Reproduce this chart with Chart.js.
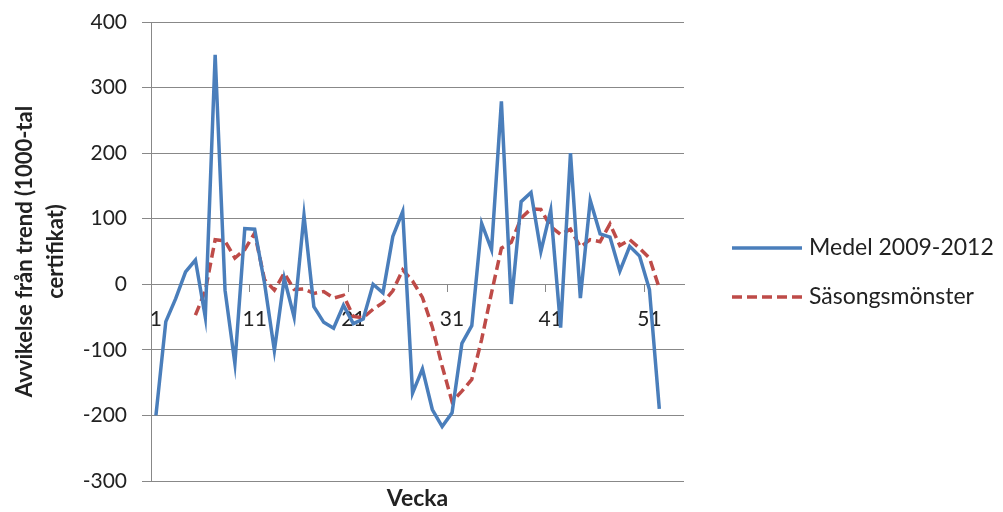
<!DOCTYPE html>
<html>
<head>
<meta charset="utf-8">
<script src="https://cdn.jsdelivr.net/npm/chart.js@4/dist/chart.umd.min.js"></script>
<style>
  html, body { margin: 0; padding: 0; background: #fff; }
  #wrap { width: 1003px; height: 512px; }
</style>
</head>
<body>
<div id="wrap"><canvas id="chart"></canvas></div>
<script>
// veckor (54 kategorier, data för 1-52)
const weeks = [1, 2, 3, 4, 5, 6, 7, 8, 9, 10, 11, 12, 13, 14, 15, 16, 17, 18,
  19, 20, 21, 22, 23, 24, 25, 26, 27, 28, 29, 30, 31, 32, 33, 34, 35, 36, 37,
  38, 39, 40, 41, 42, 43, 44, 45, 46, 47, 48, 49, 50, 51, 52, 53, 54];

// Medel 2009-2012
const medel = [-200, -57, -22, 19, 37, -50, 350, -9, -121, 85, 84, 2, -101, 9,
  -50, 105, -34, -58, -67, -32, -60, -53, 0, -13, 73, 111, -166, -129, -191,
  -217, -196, -90, -63, 93, 53, 279, -30, 126, 140, 50, 113, -66, 200, -21,
  128, 77, 72, 20, 58, 43, -8, -190];

// Säsongsmönster
const sasong = [null, null, null, null, -47, -10, 68, 66, 40, 53, 78, 7, -9,
  17, -8, -7, -14, -11, -21, -17, -49, -51, -38, -28, -10, 22, 5, -20, -65,
  -125, -179, -163, -145, -84, -13, 55, 64, 101, 115, 114, 88, 76, 84, 57, 68,
  65, 92, 59, 68, 55, 40, -6];

const yTicks = [-300, -200, -100, 0, 100, 200, 300, 400];

const gridColor = "#888888";
const textColor = "#222222";

// legend + x-titel
const extras = {
  id: "extras",
  afterDraw(chart) {
    const ctx = chart.ctx;
    const area = chart.chartArea;
    ctx.save();
    // legend
    const rows = [248, 297];
    chart.data.datasets.forEach((ds, i) => {
      const y = rows[i];
      ctx.strokeStyle = ds.borderColor;
      ctx.lineWidth = ds.borderWidth;
      ctx.setLineDash(ds.borderDash || []);
      ctx.beginPath();
      ctx.moveTo(732, y);
      ctx.lineTo(802, y);
      ctx.stroke();
      ctx.setLineDash([]);
      ctx.fillStyle = textColor;
      ctx.font = "23px Lato";
      ctx.textAlign = "left";
      ctx.textBaseline = "middle";
      ctx.fillText(ds.label, 809, y);
    });
    // x-titel
    ctx.font = "bold 23px Lato";
    ctx.textAlign = "center";
    ctx.textBaseline = "middle";
    ctx.fillText("Vecka", (area.left + area.right) / 2, 499);
    ctx.restore();
  },
};

const ctx = document.getElementById("chart").getContext("2d");
new Chart(ctx, {
  type: "line",
  data: {
    labels: weeks,
    datasets: [
      {
        label: "Medel 2009-2012",
        data: medel,
        borderColor: "#4A7EBB",
        borderWidth: 3.5,
        pointRadius: 0,
        tension: 0,
        fill: false,
      },
      {
        label: "Säsongsmönster",
        data: sasong,
        borderColor: "#BE4B48",
        borderWidth: 3.5,
        borderDash: [10, 5],
        pointRadius: 0,
        tension: 0,
        fill: false,
      },
    ],
  },
  options: {
    responsive: true,
    maintainAspectRatio: false,
    devicePixelRatio: 1,
    animation: false,
    layout: {
      padding: { left: 0, top: 22, right: 319, bottom: 31 },
    },
    plugins: {
      legend: { display: false },
      tooltip: { enabled: false },
    },
    scales: {
      x: {
        type: "category",
        position: { y: 0 },
        offset: true,
        afterFit: (scale) => {
          scale.height = 0;
          scale.paddingTop = 0;
          scale.paddingBottom = 0;
        },
        grid: {
          offset: true,
          drawOnChartArea: false,
          drawTicks: true,
          tickLength: 7,
          color: (c) => (c.index % 10 === 0 ? gridColor : "rgba(0,0,0,0)"),
        },
        border: { display: true, color: gridColor, width: 1 },
        ticks: {
          autoSkip: false,
          maxRotation: 0,
          padding: 15,
          color: textColor,
          font: { family: "Lato", size: 21 },
          callback: function (value, i) {
            return i % 10 === 0 ? weeks[i] : "";
          },
        },
      },
      y: {
        min: -300,
        max: 400,
        afterFit: (scale) => {
          scale.width = 151;
          scale.paddingTop = 0;
          scale.paddingBottom = 0;
        },
        afterBuildTicks: (scale) => {
          scale.ticks = yTicks.map((v) => ({ value: v }));
        },
        grid: {
          color: gridColor,
          lineWidth: 1,
          drawTicks: true,
          tickLength: 9,
        },
        border: { display: true, color: gridColor, width: 1 },
        ticks: {
          padding: 15,
          color: textColor,
          font: { family: "Lato", size: 21 },
        },
        title: {
          display: true,
          text: ["Avvikelse från trend (1000-tal", "certifikat)"],
          color: textColor,
          font: { family: "Lato", size: 22, weight: "bold", lineHeight: 1.4 },
          padding: { top: 10, bottom: 0 },
        },
      },
    },
  },
  plugins: [extras],
});
</script>
</body>
</html>
